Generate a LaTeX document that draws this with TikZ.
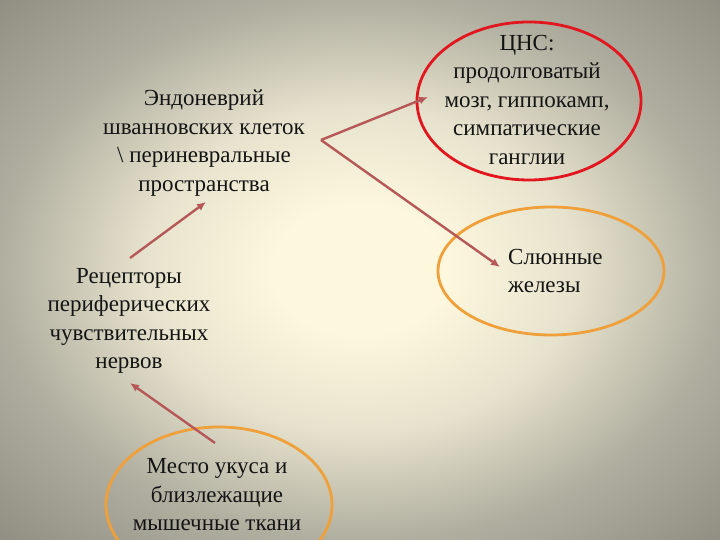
\documentclass[tikz,border=0pt]{standalone}
\usepackage{fontspec}
\setmainfont{Liberation Serif}
\usetikzlibrary{arrows.meta}

\definecolor{bgcenter}{HTML}{FDF7DD}
\definecolor{bgmid}{HTML}{E6E2CD}
\definecolor{bgedge}{HTML}{B0AE9F}
\definecolor{bgcorner}{HTML}{8E8D81}
\definecolor{arrowred}{HTML}{B65858}
\definecolor{cnsred}{HTML}{E2161F}
\definecolor{ringorange}{HTML}{F0A03A}
\definecolor{inktext}{HTML}{141414}

\pgfdeclareradialshading{bgglow}{\pgfpoint{0bp}{0bp}}{color(0bp)=(bgcenter); color(6bp)=(bgcenter); color(15bp)=(bgmid); color(25bp)=(bgedge); color(36bp)=(bgcorner); color(50bp)=(bgcorner)}

\tikzset{
  label text/.style={font=\fontsize{23}{28.5}\selectfont, text=inktext, inner sep=0pt},
  link/.style={draw=arrowred, line width=2.4pt, -{Latex[length=9pt,width=8pt]}},
  ring/.style={line width=2.8pt}
}

\begin{document}
\begin{tikzpicture}[x=1pt, y=1pt]
\useasboundingbox (0,0) rectangle (720,540);
\shade[shading=bgglow] (0,0) rectangle (720,540);
% The ellipses are drawn round plain coordinates, the texts sit on top
\coordinate (cns) at (529,439);
\coordinate (glands) at (551,269);
\coordinate (bite) at (219,35);
\draw[ring, cnsred] (cns) ellipse [x radius=112, y radius=79];
\draw[ring, ringorange] (glands) ellipse [x radius=113, y radius=64];
\draw[ring, ringorange] (bite) ellipse [x radius=113, y radius=78];
% Texts
\node[label text, align=center] (endo) at (204,397) {Эндоневрий\\шванновских клеток\\\textbackslash{} периневральные\\пространства};
\node[label text, align=center] (cnstext) at (527,440) {ЦНС:\\продолговатый\\мозг, гиппокамп,\\симпатические\\ганглии};
\node[label text, align=left, anchor=west] (glandstext) at (508,269) {Слюнные\\железы};
\node[label text, align=center] (receptors) at (129,219) {Рецепторы\\периферических\\чувствительных\\нервов};
\node[label text, align=center] (bitetext) at (217,45) {Место укуса и\\близлежащие\\мышечные ткани};
% Arrow ends, set by hand
\coordinate (fork) at (321,400);
\coordinate (cnsin) at (428,443);
\coordinate (glandsin) at (500,273);
\coordinate (recout) at (130,282);
\coordinate (endoin) at (206,338);
\coordinate (biteout) at (215,97);
\coordinate (recin) at (130,157);
\draw[link] (fork) -- (cnsin);
\draw[link] (fork) -- (glandsin);
\draw[link] (recout) -- (endoin);
\draw[link] (biteout) -- (recin);
\end{tikzpicture}
\end{document}
